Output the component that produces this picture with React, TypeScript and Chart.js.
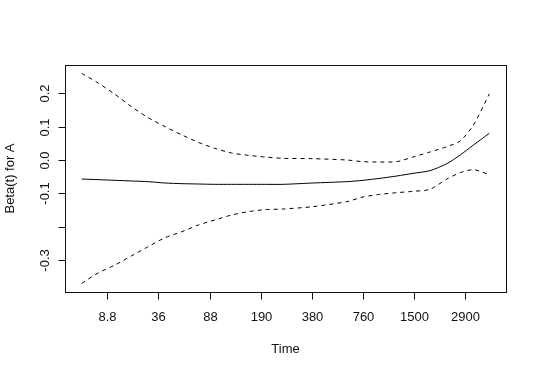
import React, { useEffect, useRef } from "react";
import { Chart, registerables } from "chart.js";

Chart.register(...registerables);

// x positions in axis-tick units (0 = "8.8", 1 = "36", ... 7 = "2900")
const xPos = [-0.5, -0.18, 0.15, 0.48, 0.8, 1.13, 1.46, 1.78, 2.1, 2.43, 2.76, 3.08, 3.44, 4.02, 4.68, 5.0, 5.33, 5.66, 5.98, 6.31, 6.64, 6.9, 7.16, 7.47];
const betaFit = [-0.057, -0.059, -0.061, -0.063, -0.065, -0.069, -0.071, -0.072, -0.073, -0.073, -0.073, -0.073, -0.073, -0.069, -0.065, -0.061, -0.055, -0.048, -0.04, -0.032, -0.011, 0.015, 0.045, 0.08];
const upperBand = [0.26, 0.231, 0.197, 0.159, 0.127, 0.1, 0.075, 0.053, 0.035, 0.021, 0.014, 0.009, 0.005, 0.004, 0.0, -0.005, -0.006, -0.005, 0.009, 0.024, 0.04, 0.057, 0.105, 0.198];
const lowerBand = [-0.37, -0.339, -0.315, -0.287, -0.26, -0.233, -0.215, -0.195, -0.18, -0.165, -0.155, -0.149, -0.147, -0.14, -0.125, -0.111, -0.103, -0.098, -0.094, -0.088, -0.057, -0.038, -0.029, -0.044];

const xTickLabels = ["8.8", "36", "88", "190", "380", "760", "1500", "2900"];
const yTickValues = [-0.3, -0.2, -0.1, 0.0, 0.1, 0.2];
const yTickLabels = ["-0.3", "", "-0.1", "0.0", "0.1", "0.2"];

const xTitle = "Time";
const yTitle = "Beta(t) for A";

const FONT = '13px "Liberation Sans", Arial, sans-serif';
const INK = "#111";

const rAxesPlugin = {
  id: "rAxes",
  afterDraw(chart: any) {
    const { ctx, chartArea } = chart;
    const xs = chart.scales.x;
    const ys = chart.scales.y;
    const { left, right, top, bottom } = chartArea;
    ctx.save();
    ctx.strokeStyle = INK;
    ctx.lineWidth = 1;
    ctx.strokeRect(Math.round(left) + 0.5, Math.round(top) + 0.5, Math.round(right - left), Math.round(bottom - top));
    ctx.fillStyle = INK;
    ctx.font = FONT;
    // x axis
    ctx.textAlign = "center";
    ctx.textBaseline = "middle";
    xTickLabels.forEach((lab, i) => {
      const px = Math.round(xs.getPixelForValue(i)) + 0.5;
      ctx.beginPath();
      ctx.moveTo(px, Math.round(bottom) + 0.5);
      ctx.lineTo(px, Math.round(bottom) + 7.5);
      ctx.stroke();
      ctx.fillText(lab, px, bottom + 25);
    });
    ctx.fillText(xTitle, (left + right) / 2, bottom + 57);
    // y axis
    yTickValues.forEach((v, i) => {
      const py = Math.round(ys.getPixelForValue(v)) + 0.5;
      ctx.beginPath();
      ctx.moveTo(Math.round(left) + 0.5, py);
      ctx.lineTo(Math.round(left) - 6.5, py);
      ctx.stroke();
      const lab = yTickLabels[i];
      if (lab) {
        ctx.save();
        ctx.translate(left - 20, py);
        ctx.rotate(-Math.PI / 2);
        ctx.fillText(lab, 0, 0);
        ctx.restore();
      }
    });
    ctx.save();
    ctx.translate(10, (top + bottom) / 2);
    ctx.rotate(-Math.PI / 2);
    ctx.fillText(yTitle, 0, 0);
    ctx.restore();
    ctx.restore();
  },
};

export default function App() {
  const ref = useRef<HTMLCanvasElement | null>(null);
  useEffect(() => {
    if (!ref.current) return;
    const mk = (vals: number[]) => xPos.map((x, i) => ({ x, y: vals[i] }));
    const chart = new Chart(ref.current, {
      type: "line",
      data: {
        datasets: [
          { data: mk(betaFit), borderColor: "#000", borderWidth: 1, pointRadius: 0, tension: 0.25, fill: false },
          { data: mk(upperBand), borderColor: "#000", borderWidth: 1, borderDash: [4, 4], pointRadius: 0, tension: 0.25, fill: false },
          { data: mk(lowerBand), borderColor: "#000", borderWidth: 1, borderDash: [4, 4], pointRadius: 0, tension: 0.25, fill: false },
        ],
      },
      options: {
        responsive: false,
        animation: false,
        events: [],
        layout: { padding: { left: 65, right: 34, top: 65, bottom: 82 } },
        plugins: { legend: { display: false }, tooltip: { enabled: false } },
        scales: {
          x: { type: "linear", min: -0.827, max: 7.796, display: false },
          y: { type: "linear", min: -0.396, max: 0.285, display: false },
        },
      },
      plugins: [rAxesPlugin],
    });
    return () => chart.destroy();
  }, []);
  return (
    <div style={{ position: "fixed", left: 0, top: 0, width: 540, height: 374, background: "#fff" }}>
      <canvas ref={ref} width={540} height={374} style={{ display: "block" }} />
    </div>
  );
}
